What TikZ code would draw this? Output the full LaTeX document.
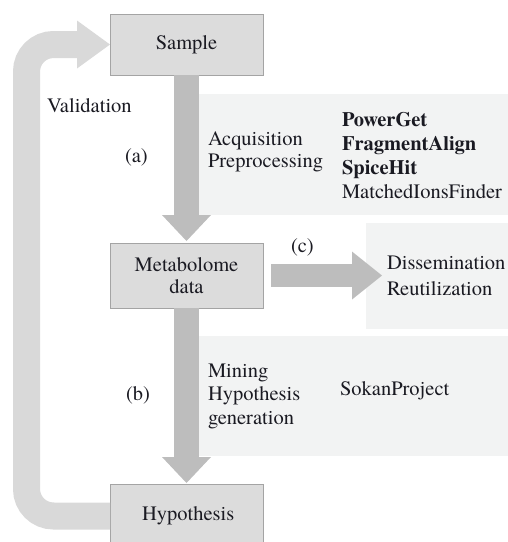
\documentclass[tikz,border=0pt]{standalone}
\usepackage{fontspec}
\setmainfont{texgyretermes}[Extension=.otf,UprightFont=*-regular,BoldFont=*-bold]
\usetikzlibrary{arrows.meta}

\definecolor{boxgray}{HTML}{DCDCDC}
\definecolor{boxline}{HTML}{A4A4A4}
\definecolor{flowgray}{HTML}{BDBDBD}
\definecolor{loopgray}{HTML}{D9D9D9}
\definecolor{panelgray}{HTML}{F2F3F3}
\definecolor{ink}{HTML}{1A1A22}

\begin{document}
\begin{tikzpicture}[x=1pt,y=-1pt,font=\fontsize{20.5}{22}\selectfont,
    box/.style={draw=boxline,fill=boxgray,line width=1pt,minimum width=153pt,
      inner sep=0pt,outer sep=0pt,align=center,text=ink},
    panel/.style={fill=panelgray,inner sep=0pt,outer sep=0pt},
    txt/.style={anchor=west,inner sep=0pt,outer sep=0pt,align=left,text=ink},
    flow/.style={draw=flowgray,line width=25pt,
      -{Triangle[length=26pt,width=49pt,line width=0pt]}}]
    \useasboundingbox (0,0) rectangle (508,542);

    % background panels
    \node[panel,minimum width=309pt,minimum height=121pt] (panela) at (353.5,154.5) {};
    \node[panel,minimum width=142pt,minimum height=106pt] (panelc) at (437,276) {};
    \node[panel,minimum width=309pt,minimum height=120pt] (panelb) at (353.5,396) {};

    % main boxes
    \node[box,minimum height=61pt] (sample) at (186.5,44.5) {Sample};
    \node[box,minimum height=65pt] (meta) at (186.5,275.5)
      {\fontsize{20.5}{27}\selectfont Metabolome\\data};
    \node[box,minimum height=64pt] (hyp) at (186.5,516) {\,Hypothesis};

    % texts
    \node[txt] (valid) at (47,106) {Validation};
    \node[txt] (la) at (125,157) {(a)};
    \node[txt] (lb) at (126,395) {(b)};
    \node[txt] (lc) at (291,247) {(c)};
    \node[txt] (acq) at (208,152) {Acquisition\\Preprocessing};
    \node[txt,font=\fontsize{20.5}{24}\selectfont] (tools) at (342,156)
      {\textbf{PowerGet}\\\textbf{FragmentAlign}\\\textbf{SpiceHit}\\MatchedIonsFinder};
    \node[txt,font=\fontsize{20.5}{26}\selectfont] (dissem) at (387,275.5)
      {Dissemination\\Reutilization};
    \node[txt,font=\fontsize{20.5}{23.5}\selectfont] (mining) at (208,396)
      {Mining\\Hypothesis\\generation};
    \node[txt] (sokan) at (340,391) {SokanProject};

    \coordinate (lt) at (26.5,44.5);

    \path
    (sample) edge[flow,shorten >=2pt] (meta)
    (meta) edge[flow,shorten >=1pt] (hyp)
    (meta) edge[flow,line width=23pt,shorten <=8pt,shorten >=5pt,
      -{Triangle[length=30pt,width=48pt,line width=0pt]}] (dissem)
    ;

    \draw[draw=loopgray,line width=27pt,rounded corners=27pt,
      -{Triangle[length=33pt,width=48pt,line width=0pt]}]
      (hyp.west) -| (lt) -- (sample.west);
\end{tikzpicture}
\end{document}
